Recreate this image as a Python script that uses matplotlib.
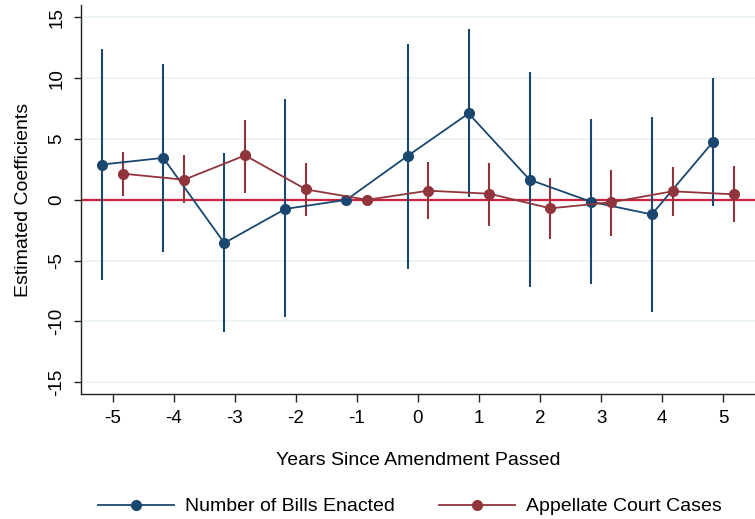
import matplotlib
matplotlib.use('Agg')
import matplotlib.pyplot as plt
import numpy as np

plt.rcParams['font.family'] = ['Liberation Sans', 'DejaVu Sans']

years = [-5, -4, -3, -2, -1, 0, 1, 2, 3, 4, 5]

# number of bills enacted
bills = [2.9, 3.45, -3.55, -0.75, 0.0, 3.6, 7.1, 1.65, -0.15, -1.2, 4.75]
bills_hi = [12.4, 11.2, 3.85, 8.25, 0.0, 12.8, 14.05, 10.5, 6.65, 6.8, 10.0]
bills_lo = [-6.6, -4.3, -10.85, -9.65, 0.0, -5.7, 0.2, -7.2, -6.95, -9.25, -0.5]

# appellate court cases
courts = [2.15, 1.65, 3.65, 0.85, 0.0, 0.75, 0.5, -0.7, -0.2, 0.7, 0.45]
courts_hi = [3.95, 3.7, 6.6, 3.0, 0.0, 3.1, 3.0, 1.8, 2.45, 2.7, 2.75]
courts_lo = [0.3, -0.3, 0.6, -1.35, 0.0, -1.55, -2.15, -3.25, -2.95, -1.3, -1.85]

blue = '#1a476f'
red = '#90353b'
off = 0.17

fig = plt.figure(figsize=(7.55, 5.19), dpi=100)
ax = fig.add_axes([0.107, 0.240, 0.893, 0.750])

x = np.array(years, dtype=float)
for xs, y, lo, hi, c, lab in [(x - off, bills, bills_lo, bills_hi, blue, 'Number of Bills Enacted'),
                              (x + off, courts, courts_lo, courts_hi, red, 'Appellate Court Cases')]:
    ax.vlines(xs, lo, hi, color=c, lw=1.5, zorder=3)
    ax.plot(xs, y, '-o', color=c, lw=1.3, ms=7, zorder=4, label=lab)

ax.axhline(0, color='#cc2240', lw=1.6, zorder=2)

ax.set_xlim(-5.52, 5.52)
ax.set_ylim(-16, 16)
ax.set_xticks(years)
ax.set_xticklabels([str(v) for v in years])
ax.set_yticks([-15, -10, -5, 0, 5, 10, 15])
ax.set_yticklabels(['-15', '-10', '-5', '0', '5', '10', '15'], rotation=90, va='center')
ax.grid(axis='y', color='#eaf2f3', lw=1.2, zorder=0)
ax.set_axisbelow(True)
for s in ['top', 'right']:
    ax.spines[s].set_visible(False)
for s in ['left', 'bottom']:
    ax.spines[s].set_color('#222222')
    ax.spines[s].set_linewidth(1.0)
ax.tick_params(axis='both', labelsize=13.5, color='#222222', width=1.0)
ax.tick_params(axis='y', length=5, pad=6)
ax.tick_params(axis='x', length=6, pad=5)

ax.set_xlabel('Years Since Amendment Passed', fontsize=14, labelpad=18)
ax.set_ylabel('Estimated Coefficients', fontsize=14, labelpad=12)

fig.legend(loc='center', bbox_to_anchor=(0.543, 0.024), ncol=2, frameon=False,
           fontsize=14, handlelength=3.9, columnspacing=2.25, handletextpad=0.6)

fig.savefig('out.png', dpi=100)
